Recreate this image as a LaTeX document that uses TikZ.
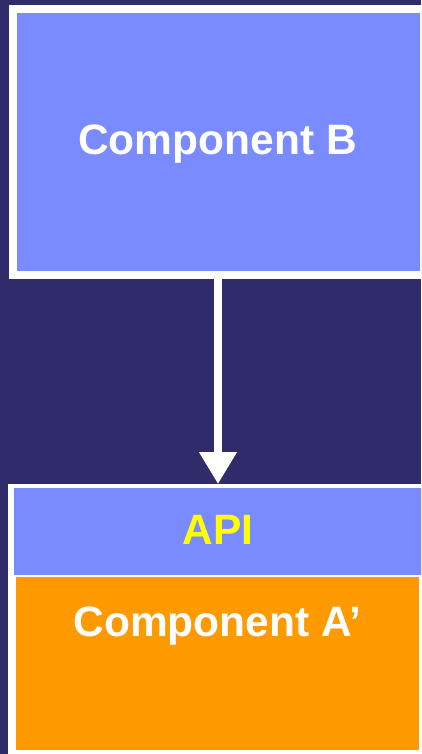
\documentclass[tikz,border=0pt]{standalone}
\usepackage{fontspec}
\setmainfont{Liberation Sans}
\usetikzlibrary{arrows.meta}

\definecolor{navy}{RGB}{48,43,107}
\definecolor{compblue}{RGB}{122,139,255}
\definecolor{comporange}{RGB}{255,153,0}
\definecolor{apiyellow}{RGB}{255,255,0}

\begin{document}
\begin{tikzpicture}[
			x=1pt, y=-1pt,
			box/.style={rectangle, inner sep=0pt, outer sep=0pt},
			title/.style={anchor=base, inner sep=0pt, font=\bfseries\fontsize{42.5}{50}\selectfont},
		]
		\useasboundingbox (0,0) rectangle (421,754);
		\clip (0,0) rectangle (421,754);
		\fill[navy] (0,0) rectangle (421,754);

		% upper component
		\node[box, draw=white, line width=8pt, fill=compblue,
			minimum width=411pt, minimum height=266pt] (compB) at (218.5,142) {};
		\node[title, text=white] (labelB) at (217.5,155) {Component B};

		% lower component with its api on top
		\node[box, fill=white, minimum width=416pt, minimum height=274pt] (frameA) at (216,621) {};
		\node[box, fill=compblue, minimum width=410pt, minimum height=87pt] (api) at (219,531.5) {};
		\node[box, fill=comporange, minimum width=403pt, minimum height=173pt] (compA) at (217.5,663.5) {};
		\node[title, text=apiyellow] (labelapi) at (218,544) {API};
		\node[title, text=white] (labelA) at (217.5,636) {Component A’};

		\draw[white, line width=7.5pt, -{Triangle[width=36pt, length=32pt]}]
			(compB.south -| labelapi) -- (frameA.north -| labelapi);
	\end{tikzpicture}
\end{document}
